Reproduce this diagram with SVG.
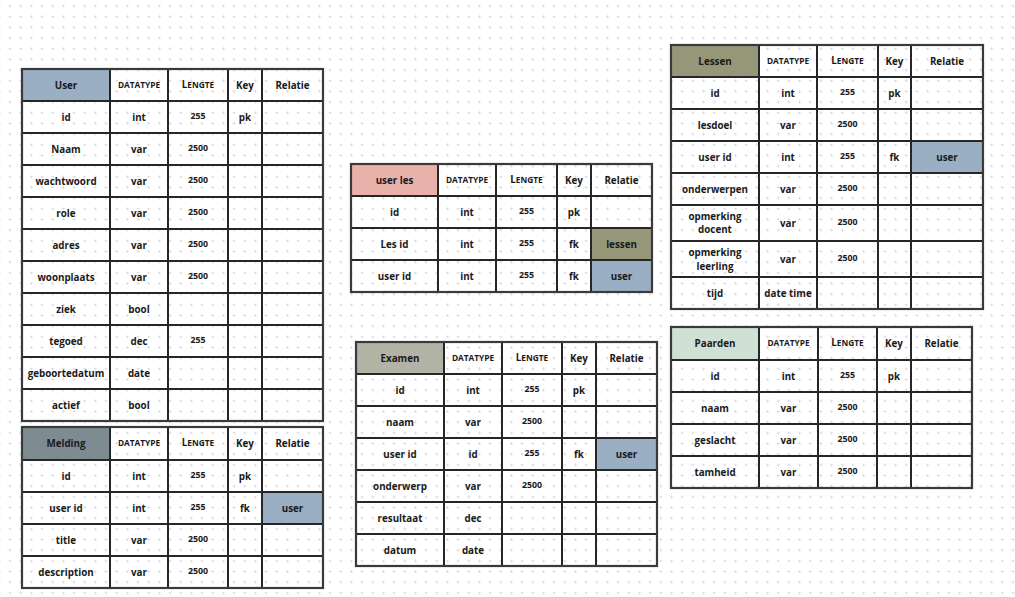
<svg xmlns="http://www.w3.org/2000/svg" width="1015" height="597" viewBox="0 0 1015 597">
<defs>
<pattern id="dots" patternUnits="userSpaceOnUse" x="4.67" y="0.67" width="10.67" height="10.67">
<path d="M3.83 5.33H6.83M5.33 3.83V6.83" stroke="#dadae4" stroke-width="0.9"/>
</pattern>
<style>
.g{fill:none;stroke:#262626;stroke-width:2}
.o{fill:none;stroke:#3a3a3a;stroke-width:2.2}
.t{font-family:"Open Sans","Noto Sans","DejaVu Sans",sans-serif;font-size:9.8px;font-weight:700;fill:#1a1a1a;text-anchor:middle}
.sc{font-size:8.3px}
.s{font-size:8.3px}
.n{font-size:8.8px}
.blue{fill:#9aafc4}
.olive{fill:#969779}
</style>
</defs>
<rect width="1015" height="597" fill="#ffffff"/>
<rect width="1015" height="597" fill="url(#dots)"/>
<g id="connectors"/>

<g id="user">
<rect x="22" y="69" width="88" height="32" class="blue"/>
<path class="g" d="M110 69V421M168 69V421M228 69V421M262 69V421M22 101H323M22 133H323M22 165H323M22 197H323M22 229H323M22 261H323M22 293H323M22 325H323M22 357H323M22 389H323"/>
<rect class="o" x="22" y="69" width="301" height="352"/>
<text class="t" x="66" y="88.5">User</text>
<text class="t sc" x="139" y="87.5">DATATYPE</text>
<text class="t" x="198" y="87.5">L<tspan class="s">ENGTE</tspan></text>
<text class="t" x="245" y="88.5">Key</text>
<text class="t" x="292.5" y="88.5">Relatie</text>
<text class="t" x="66" y="120.5">id</text><text class="t" x="139" y="120.5">int</text><text class="t n" x="198" y="118.5">255</text><text class="t" x="245" y="120.5">pk</text>
<text class="t" x="66" y="152.5">Naam</text><text class="t" x="139" y="152.5">var</text><text class="t n" x="198" y="150.5">2500</text>
<text class="t" x="66" y="184.5">wachtwoord</text><text class="t" x="139" y="184.5">var</text><text class="t n" x="198" y="182.5">2500</text>
<text class="t" x="66" y="216.5">role</text><text class="t" x="139" y="216.5">var</text><text class="t n" x="198" y="214.5">2500</text>
<text class="t" x="66" y="248.5">adres</text><text class="t" x="139" y="248.5">var</text><text class="t n" x="198" y="246.5">2500</text>
<text class="t" x="66" y="280.5">woonplaats</text><text class="t" x="139" y="280.5">var</text><text class="t n" x="198" y="278.5">2500</text>
<text class="t" x="66" y="312.5">ziek</text><text class="t" x="139" y="312.5">bool</text>
<text class="t" x="66" y="344.5">tegoed</text><text class="t" x="139" y="344.5">dec</text><text class="t n" x="198" y="342.5">255</text>
<text class="t" x="66" y="376.5">geboortedatum</text><text class="t" x="139" y="376.5">date</text>
<text class="t" x="66" y="408.5">actief</text><text class="t" x="139" y="408.5">bool</text>
</g>

<g id="melding">
<rect x="22" y="427" width="88" height="33" fill="#7e8c92"/>
<rect x="262" y="492" width="61" height="32" class="blue"/>
<path class="g" d="M110 427V588M168 427V588M228 427V588M262 427V588M22 460H323M22 492H323M22 524H323M22 556H323"/>
<rect class="o" x="22" y="427" width="301" height="161"/>
<text class="t" x="66" y="447">Melding</text>
<text class="t sc" x="139" y="446">DATATYPE</text>
<text class="t" x="198" y="446">L<tspan class="s">ENGTE</tspan></text>
<text class="t" x="245" y="447">Key</text>
<text class="t" x="292.5" y="447">Relatie</text>
<text class="t" x="66" y="479.5">id</text><text class="t" x="139" y="479.5">int</text><text class="t n" x="198" y="477.5">255</text><text class="t" x="245" y="479.5">pk</text>
<text class="t" x="66" y="511.5">user id</text><text class="t" x="139" y="511.5">int</text><text class="t n" x="198" y="509.5">255</text><text class="t" x="245" y="511.5">fk</text><text class="t" x="292.5" y="511.5">user</text>
<text class="t" x="66" y="543.5">title</text><text class="t" x="139" y="543.5">var</text><text class="t n" x="198" y="541.5">2500</text>
<text class="t" x="66" y="575.5">description</text><text class="t" x="139" y="575.5">var</text><text class="t n" x="198" y="573.5">2500</text>
</g>

<g id="user-les">
<rect x="351" y="164" width="87" height="32" fill="#e8b2aa"/>
<rect x="591" y="228" width="61" height="32" class="olive"/>
<rect x="591" y="260" width="61" height="32" class="blue"/>
<path class="g" d="M438 164V292M496 164V292M557 164V292M591 164V292M351 196H652M351 228H652M351 260H652"/>
<rect class="o" x="351" y="164" width="301" height="128"/>
<text class="t" x="394.5" y="183.5">user les</text>
<text class="t sc" x="467" y="182.5">DATATYPE</text>
<text class="t" x="526.5" y="182.5">L<tspan class="s">ENGTE</tspan></text>
<text class="t" x="574" y="183.5">Key</text>
<text class="t" x="621.5" y="183.5">Relatie</text>
<text class="t" x="394.5" y="215.5">id</text><text class="t" x="467" y="215.5">int</text><text class="t n" x="526.5" y="213.5">255</text><text class="t" x="574" y="215.5">pk</text>
<text class="t" x="394.5" y="247.5">Les id</text><text class="t" x="467" y="247.5">int</text><text class="t n" x="526.5" y="245.5">255</text><text class="t" x="574" y="247.5">fk</text><text class="t" x="621.5" y="247.5">lessen</text>
<text class="t" x="394.5" y="279.5">user id</text><text class="t" x="467" y="279.5">int</text><text class="t n" x="526.5" y="277.5">255</text><text class="t" x="574" y="279.5">fk</text><text class="t" x="621.5" y="279.5">user</text>
</g>

<g id="examen">
<rect x="356" y="342" width="88" height="32" fill="#b2b3a5"/>
<rect x="596" y="438" width="61" height="32" class="blue"/>
<path class="g" d="M444 342V566M502 342V566M562 342V566M596 342V566M356 374H657M356 406H657M356 438H657M356 470H657M356 502H657M356 534H657"/>
<rect class="o" x="356" y="342" width="301" height="224"/>
<text class="t" x="400" y="361.5">Examen</text>
<text class="t sc" x="473" y="360.5">DATATYPE</text>
<text class="t" x="532" y="360.5">L<tspan class="s">ENGTE</tspan></text>
<text class="t" x="579" y="361.5">Key</text>
<text class="t" x="626.5" y="361.5">Relatie</text>
<text class="t" x="400" y="393.5">id</text><text class="t" x="473" y="393.5">int</text><text class="t n" x="532" y="391.5">255</text><text class="t" x="579" y="393.5">pk</text>
<text class="t" x="400" y="425.5">naam</text><text class="t" x="473" y="425.5">var</text><text class="t n" x="532" y="423.5">2500</text>
<text class="t" x="400" y="457.5">user id</text><text class="t" x="473" y="457.5">id</text><text class="t n" x="532" y="455.5">255</text><text class="t" x="579" y="457.5">fk</text><text class="t" x="626.5" y="457.5">user</text>
<text class="t" x="400" y="489.5">onderwerp</text><text class="t" x="473" y="489.5">var</text><text class="t n" x="532" y="487.5">2500</text>
<text class="t" x="400" y="521.5">resultaat</text><text class="t" x="473" y="521.5">dec</text>
<text class="t" x="400" y="553.5">datum</text><text class="t" x="473" y="553.5">date</text>
</g>

<g id="lessen">
<rect x="671" y="45" width="88" height="32" class="olive"/>
<rect x="911" y="141" width="72" height="32" class="blue"/>
<path class="g" d="M759 45V309M817 45V309M878 45V309M911 45V309M671 77H983M671 109H983M671 141H983M671 173H983M671 205H983M671 241H983M671 277H983"/>
<rect class="o" x="671" y="45" width="312" height="264"/>
<text class="t" x="715" y="64.5">Lessen</text>
<text class="t sc" x="788" y="63.5">DATATYPE</text>
<text class="t" x="847.5" y="63.5">L<tspan class="s">ENGTE</tspan></text>
<text class="t" x="894.5" y="64.5">Key</text>
<text class="t" x="947" y="64.5">Relatie</text>
<text class="t" x="715" y="96.5">id</text><text class="t" x="788" y="96.5">int</text><text class="t n" x="847.5" y="94.5">255</text><text class="t" x="894.5" y="96.5">pk</text>
<text class="t" x="715" y="128.5">lesdoel</text><text class="t" x="788" y="128.5">var</text><text class="t n" x="847.5" y="126.5">2500</text>
<text class="t" x="715" y="160.5">user id</text><text class="t" x="788" y="160.5">int</text><text class="t n" x="847.5" y="158.5">255</text><text class="t" x="894.5" y="160.5">fk</text><text class="t" x="947" y="160.5">user</text>
<text class="t" x="715" y="192.5">onderwerpen</text><text class="t" x="788" y="192.5">var</text><text class="t n" x="847.5" y="190.5">2500</text>
<text class="t" x="715" y="219.5">opmerking</text><text class="t" x="715" y="233">docent</text><text class="t" x="788" y="226.5">var</text><text class="t n" x="847.5" y="224.5">2500</text>
<text class="t" x="715" y="256">opmerking</text><text class="t" x="715" y="269.5">leerling</text><text class="t" x="788" y="262.5">var</text><text class="t n" x="847.5" y="260.5">2500</text>
<text class="t" x="715" y="296.5">tijd</text><text class="t" x="788" y="296.5">date time</text>
</g>

<g id="paarden">
<rect x="671" y="327" width="88" height="33" fill="#d0e0d4"/>
<path class="g" d="M759 327V488M818 327V488M877 327V488M911 327V488M671 360H972M671 392H972M671 424H972M671 456H972"/>
<rect class="o" x="671" y="327" width="301" height="161"/>
<text class="t" x="715" y="347">Paarden</text>
<text class="t sc" x="788.5" y="346">DATATYPE</text>
<text class="t" x="847.5" y="346">L<tspan class="s">ENGTE</tspan></text>
<text class="t" x="894" y="347">Key</text>
<text class="t" x="941.5" y="347">Relatie</text>
<text class="t" x="715" y="379.5">id</text><text class="t" x="788.5" y="379.5">int</text><text class="t n" x="847.5" y="377.5">255</text><text class="t" x="894" y="379.5">pk</text>
<text class="t" x="715" y="411.5">naam</text><text class="t" x="788.5" y="411.5">var</text><text class="t n" x="847.5" y="409.5">2500</text>
<text class="t" x="715" y="443.5">geslacht</text><text class="t" x="788.5" y="443.5">var</text><text class="t n" x="847.5" y="441.5">2500</text>
<text class="t" x="715" y="475.5">tamheid</text><text class="t" x="788.5" y="475.5">var</text><text class="t n" x="847.5" y="473.5">2500</text>
</g>
</svg>
